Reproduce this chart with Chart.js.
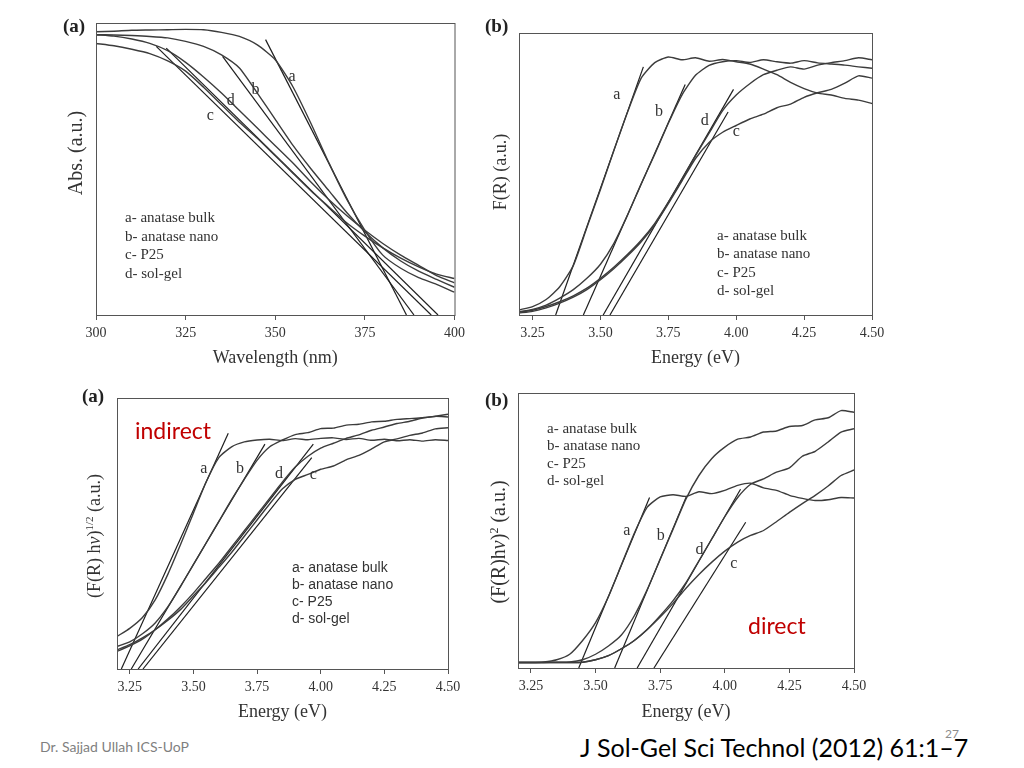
<!DOCTYPE html>
<html>
<head>
<meta charset="utf-8">
<script src="https://cdn.jsdelivr.net/npm/chart.js@4.4.0/dist/chart.umd.min.js"></script>
<style>
body { margin: 0; background: #fff; }
#slide { position: relative; width: 1024px; height: 768px; overflow: hidden; background: #fff; font-family: "Liberation Serif", serif; color: #333; }
canvas { position: absolute; }
.t { position: absolute; white-space: nowrap; line-height: 1; }
.ytitle { position: absolute; white-space: nowrap; line-height: 1; transform: translate(-50%, -50%) rotate(-90deg); }
.lab { font-weight: bold; font-size: 19px; color: #222; }
.leg { font-size: 15px; }
.legsans { font-family: "Liberation Sans", sans-serif; font-size: 14px; }
.red { font-family: Lato, sans-serif; font-size: 23px; color: #c00000; }
</style>
</head>
<body>
<div id="slide">
  <canvas id="c1" width="410" height="360" style="left:60px;top:10px"></canvas>
  <canvas id="c2" width="420" height="360" style="left:470px;top:10px"></canvas>
  <canvas id="c3" width="410" height="350" style="left:60px;top:380px"></canvas>
  <canvas id="c4" width="420" height="350" style="left:470px;top:380px"></canvas>

  <div class="t lab" style="left:63px;top:16px">(a)</div>
  <div class="t lab" style="left:485px;top:16px">(b)</div>
  <div class="t lab" style="left:82px;top:386px">(a)</div>
  <div class="t lab" style="left:485px;top:390px">(b)</div>

  <div class="ytitle" style="left:75px;top:153px;font-size:20px">Abs. (a.u.)</div>
  <div class="ytitle" style="left:500px;top:172px;font-size:18px">F(R) (a.u.)</div>
  <div class="ytitle" style="left:93px;top:536px;font-size:18px">(F(R) h<i>ν</i>)<sup style="font-size:11px">1/2</sup> (a.u.)</div>
  <div class="ytitle" style="left:498px;top:542px;font-size:20px">(F(R)h<i>ν</i>)<sup style="font-size:12px">2</sup> (a.u.)</div>

  <div class="t leg" style="left:125px;top:208px;line-height:18.7px">a- anatase bulk<br>b- anatase nano<br>c- P25<br>d- sol-gel</div>
  <div class="t leg" style="left:717px;top:226px;line-height:18.3px">a- anatase bulk<br>b- anatase nano<br>c- P25<br>d- sol-gel</div>
  <div class="t legsans" style="left:292px;top:559px;line-height:17px">a- anatase bulk<br>b- anatase nano<br>c- P25<br>d- sol-gel</div>
  <div class="t leg" style="left:547px;top:420px;line-height:17.3px">a- anatase bulk<br>b- anatase nano<br>c- P25<br>d- sol-gel</div>

  <div class="t red" style="left:135px;top:419px">indirect</div>
  <div class="t red" style="left:748px;top:614px">direct</div>

  <div class="t" style="left:40px;top:740px;font-family:Lato,sans-serif;font-size:14px;color:#7f7f7f">Dr. Sajjad Ullah ICS-UoP</div>
  <div class="t" style="left:945px;top:728px;font-family:Lato,sans-serif;font-size:12px;color:#8c8c8c">27</div>
  <div class="t" style="left:580px;top:735px;font-family:Lato,sans-serif;font-size:25px;color:#000">J Sol-Gel Sci Technol (2012) 61:1–7</div>
</div>

<script>
// top left: absorbance vs wavelength
var wavelength = [300,305,310,315,320,325,330,335,340,345,350,355,360,365,370,375,380,385,390,395,400];
var absA = [0.970,0.972,0.975,0.976,0.977,0.978,0.977,0.968,0.954,0.925,0.874,0.780,0.655,0.520,0.395,0.290,0.205,0.160,0.128,0.105,0.078];
var absB = [0.960,0.959,0.957,0.954,0.949,0.937,0.920,0.891,0.846,0.760,0.670,0.580,0.500,0.425,0.350,0.285,0.230,0.185,0.150,0.122,0.095];
var absC = [0.930,0.922,0.910,0.895,0.870,0.835,0.780,0.720,0.660,0.605,0.545,0.485,0.425,0.370,0.315,0.270,0.230,0.195,0.165,0.140,0.125];
var absD = [0.960,0.955,0.945,0.930,0.905,0.865,0.815,0.760,0.700,0.640,0.580,0.520,0.455,0.395,0.340,0.290,0.245,0.205,0.170,0.135,0.110];
var absTangents = [[347.3,0.943,386.6,0],[335.3,0.886,388.7,0],[316.8,0.92,393.5,0],[319.6,0.914,395.4,0]];
var absLetters = [[354.7,0.817],[344.5,0.771],[331.9,0.682],[337.6,0.735]];

// energy grid shared by the three F(R) panels
var energy = [3.2,3.25,3.3,3.35,3.4,3.45,3.5,3.55,3.6,3.65,3.7,3.75,3.8,3.85,3.9,3.95,4.0,4.05,4.1,4.15,4.2,4.25,4.3,4.35,4.4,4.45,4.5];

// top right: F(R)
var frA = [0.018,0.030,0.055,0.100,0.175,0.310,0.445,0.585,0.720,0.840,0.895,0.915,0.905,0.912,0.900,0.906,0.898,0.890,0.872,0.852,0.825,0.803,0.787,0.780,0.768,0.762,0.750];
var frB = [0.012,0.020,0.035,0.060,0.090,0.130,0.180,0.255,0.355,0.465,0.570,0.680,0.780,0.850,0.885,0.898,0.902,0.896,0.905,0.898,0.893,0.902,0.894,0.890,0.886,0.880,0.875];
var frC = [0.007,0.013,0.025,0.042,0.063,0.090,0.125,0.165,0.210,0.260,0.320,0.395,0.475,0.555,0.612,0.648,0.672,0.695,0.712,0.735,0.748,0.772,0.788,0.800,0.822,0.848,0.840];
var frD = [0.010,0.017,0.030,0.047,0.068,0.095,0.130,0.170,0.215,0.265,0.325,0.400,0.480,0.565,0.645,0.725,0.780,0.820,0.852,0.868,0.880,0.872,0.886,0.895,0.902,0.912,0.905];
var frTangents = [[3.335,0,3.658,0.88],[3.437,0,3.812,0.817],[3.535,0,3.97,0.72],[3.51,0,3.99,0.80]];
var frLetters = [[3.56,0.78],[3.716,0.72],[4.0,0.65],[3.884,0.69]];

// bottom left: (F(R)hv)^1/2, indirect
var indA = [0.120,0.150,0.190,0.255,0.350,0.460,0.575,0.690,0.780,0.820,0.838,0.845,0.848,0.843,0.850,0.846,0.851,0.853,0.847,0.851,0.844,0.848,0.842,0.846,0.841,0.846,0.843];
var indB = [0.083,0.100,0.130,0.170,0.230,0.305,0.385,0.465,0.545,0.625,0.700,0.770,0.820,0.845,0.865,0.872,0.887,0.889,0.900,0.903,0.912,0.914,0.921,0.924,0.927,0.932,0.930];
var indC = [0.070,0.090,0.115,0.145,0.180,0.220,0.270,0.320,0.375,0.430,0.490,0.550,0.610,0.665,0.700,0.718,0.737,0.749,0.772,0.788,0.812,0.838,0.849,0.862,0.871,0.886,0.890];
var indD = [0.065,0.085,0.110,0.145,0.185,0.230,0.280,0.335,0.390,0.450,0.510,0.570,0.630,0.690,0.745,0.785,0.815,0.833,0.851,0.864,0.881,0.893,0.906,0.914,0.926,0.933,0.940];
var indTangents = [[3.217,0,3.637,0.87],[3.256,0,3.781,0.83],[3.302,0,3.965,0.78],[3.283,0,3.971,0.83]];
var indLetters = [[3.541,0.74],[3.683,0.74],[3.971,0.715],[3.836,0.72]];

// bottom right: (F(R)hv)^2, direct
var dirA = [0.020,0.020,0.022,0.030,0.050,0.100,0.165,0.260,0.375,0.490,0.585,0.622,0.630,0.624,0.641,0.634,0.646,0.664,0.672,0.655,0.646,0.628,0.617,0.609,0.612,0.620,0.618];
var dirB = [0.020,0.020,0.020,0.021,0.022,0.030,0.050,0.080,0.120,0.190,0.285,0.395,0.505,0.615,0.700,0.762,0.803,0.832,0.840,0.858,0.862,0.878,0.882,0.902,0.910,0.936,0.930];
var dirC = [0.020,0.020,0.020,0.020,0.020,0.021,0.030,0.045,0.070,0.100,0.140,0.185,0.235,0.290,0.340,0.385,0.425,0.458,0.482,0.500,0.532,0.566,0.598,0.628,0.662,0.700,0.720];
var dirD = [0.020,0.020,0.020,0.020,0.020,0.021,0.030,0.045,0.070,0.100,0.140,0.190,0.245,0.310,0.390,0.470,0.550,0.620,0.668,0.688,0.712,0.728,0.770,0.788,0.822,0.858,0.870];
var dirTangents = [[3.435,0,3.709,0.62],[3.574,0,3.852,0.625],[3.726,0,4.081,0.53],[3.661,0,4.061,0.65]];
var dirLetters = [[3.621,0.5],[3.752,0.48],[4.035,0.38],[3.902,0.43]];

var wavelengthTicks = [300,325,350,375,400];
var energyTicks = [3.25,3.5,3.75,4.0,4.25,4.5];
var curveNames = ['a','b','c','d'];

function makePanel(canvasId, xs, series, tangents, letters, cfg) {
  var datasets = [];
  series.forEach(function(ys) {
    datasets.push({
      data: xs.map(function(x, i) { return {x: x, y: ys[i]}; }),
      borderColor: '#3c3c3c', borderWidth: 1.4, pointRadius: 0, tension: 0.2
    });
  });
  tangents.forEach(function(t) {
    datasets.push({
      data: [{x: t[0], y: t[1]}, {x: t[2], y: t[3]}],
      borderColor: '#1e1e1e', borderWidth: 1.2, pointRadius: 0
    });
  });

  var letterPlugin = {
    id: 'letters',
    afterDatasetsDraw: function(chart) {
      var ctx = chart.ctx;
      ctx.save();
      ctx.font = '16px "Liberation Serif"';
      ctx.fillStyle = '#333';
      ctx.textAlign = 'center';
      ctx.textBaseline = 'middle';
      letters.forEach(function(p, i) {
        ctx.fillText(curveNames[i], chart.scales.x.getPixelForValue(p[0]), chart.scales.y.getPixelForValue(p[1]));
      });
      ctx.restore();
    }
  };
  var boxPlugin = {
    id: 'box',
    afterDraw: function(chart) {
      var a = chart.chartArea, ctx = chart.ctx;
      ctx.save();
      ctx.strokeStyle = '#555';
      ctx.lineWidth = 1;
      ctx.strokeRect(a.left + 0.5, a.top + 0.5, a.right - a.left, a.bottom - a.top);
      ctx.restore();
    }
  };

  new Chart(document.getElementById(canvasId), {
    type: 'line',
    data: {datasets: datasets},
    options: {
      responsive: false,
      animation: false,
      events: [],
      layout: {padding: cfg.pad},
      plugins: {legend: {display: false}, tooltip: {enabled: false}},
      scales: {
        x: {
          type: 'linear', min: cfg.min, max: cfg.max,
          afterBuildTicks: function(s) { s.ticks = cfg.ticks.map(function(v) { return {value: v}; }); },
          afterFit: function(s) { s.height = cfg.axisH; },
          ticks: {font: {family: 'Liberation Serif', size: 14}, color: '#333', padding: 5, maxRotation: 0, autoSkip: false, callback: cfg.fmt},
          grid: {drawOnChartArea: false, drawTicks: true, tickLength: 5, color: '#555'},
          border: {display: true, color: '#555'},
          title: {display: true, text: cfg.xTitle, font: {family: 'Liberation Serif', size: 18}, color: '#333', padding: {top: 0, bottom: cfg.titlePad}}
        },
        y: {display: false, min: 0, max: 1}
      }
    },
    plugins: [letterPlugin, boxPlugin]
  });
}

var nmFmt = function(v) { return String(v); };
var evFmt = function(v) { return Number(v).toFixed(2); };

makePanel('c1', wavelength, [absA, absB, absC, absD], absTangents, absLetters,
  {pad: {left: 36, right: 13, top: 13, bottom: 0}, axisH: 55, min: 300, max: 400, ticks: wavelengthTicks, fmt: nmFmt, xTitle: 'Wavelength (nm)', titlePad: 1});
makePanel('c2', energy, [frA, frB, frC, frD], frTangents, frLetters,
  {pad: {left: 49, right: 18, top: 23, bottom: 0}, axisH: 55, min: 3.2, max: 4.5, ticks: energyTicks, fmt: evFmt, xTitle: 'Energy (eV)', titlePad: 1});
makePanel('c3', energy, [indA, indB, indC, indD], indTangents, indLetters,
  {pad: {left: 57, right: 22, top: 18, bottom: 0}, axisH: 61, min: 3.2, max: 4.5, ticks: energyTicks, fmt: evFmt, xTitle: 'Energy (eV)', titlePad: 7});
makePanel('c4', energy, [dirA, dirB, dirC, dirD], dirTangents, dirLetters,
  {pad: {left: 48, right: 36, top: 13, bottom: 0}, axisH: 62, min: 3.2, max: 4.5, ticks: energyTicks, fmt: evFmt, xTitle: 'Energy (eV)', titlePad: 7});
</script>
</body>
</html>
